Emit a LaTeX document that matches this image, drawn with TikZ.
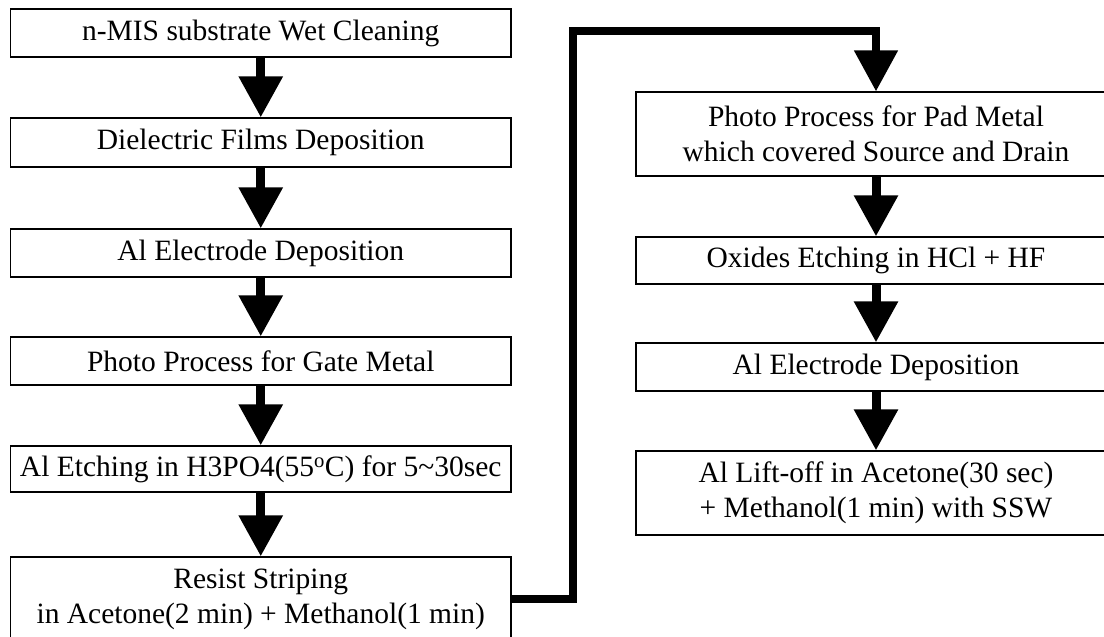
\documentclass[tikz,border=0pt]{standalone}
\usepackage{fontspec}
\setmainfont{Liberation Serif}
\usetikzlibrary{arrows.meta}
\newcommand{\boxfont}{\fontsize{29.5pt}{35pt}\selectfont}
\tikzset{
  box/.style={draw, line width=1.2pt, inner sep=0pt, align=center, font=\boxfont},
  lbox/.style={box, minimum width=500.5pt},
  rbox/.style={box, minimum width=480pt},
  flow/.style={line width=9pt, -{Triangle[width=42pt,length=41pt]}},
  link/.style={line width=8pt, line join=miter, -{Triangle[width=42pt,length=41pt]}}
}
\begin{document}
\begin{tikzpicture}
\useasboundingbox (0,0) rectangle (1104pt,-637pt);
\clip (0,0) rectangle (1104pt,-637pt);
\fill[white] (0,0) rectangle (1104pt,-637pt);
% left column
\node[lbox, minimum height=48pt] (l1) at (260.75pt,-33pt) {n-MIS substrate Wet Cleaning};
\node[lbox, minimum height=49pt] (l2) at (260.75pt,-142.5pt) {Dielectric Films Deposition};
\node[lbox, minimum height=48pt] (l3) at (260.75pt,-253pt) {Al Electrode Deposition};
\node[lbox, minimum height=48pt] (l4) at (260.75pt,-361pt) {Photo Process for Gate Metal};
\node[lbox, minimum height=46pt] (l5) at (260.75pt,-469pt) {Al Etching in H3PO4(55\textsuperscript{o}C) for 5\textasciitilde30sec};
\node[lbox, minimum height=84pt] (l6) at (260.75pt,-599pt) {Resist Striping\\in Acetone(2 min) + Methanol(1 min)};
% right column
\node[rbox, minimum height=84pt] (r1) at (876pt,-134pt) {Photo Process for Pad Metal\\which covered Source and Drain};
\node[rbox, minimum height=47pt] (r2) at (876pt,-260.5pt) {Oxides Etching in HCl + HF};
\node[rbox, minimum height=48pt] (r3) at (876pt,-367pt) {Al Electrode Deposition};
\node[rbox, minimum height=84pt] (r4) at (876pt,-493pt) {Al Lift-off in Acetone(30 sec)\\+ Methanol(1 min) with SSW};
% arrows
\draw[flow] (l1.south) -- (l2.north);
\draw[flow] (l2.south) -- (l3.north);
\draw[flow] (l3.south) -- (l4.north);
\draw[flow] (l4.south) -- (l5.north);
\draw[flow] (l5.south) -- (l6.north);
\draw[flow] (r1.south) -- (r2.north);
\draw[flow] (r2.south) -- (r3.north);
\draw[flow] (r3.south) -- (r4.north);
% connector between columns
\coordinate (c1) at (573pt,-599pt);
\coordinate (c2) at (573pt,-31pt);
\draw[link] (l6.east) -- (c1) -- (c2) -| (r1.north);
\end{tikzpicture}
\end{document}
